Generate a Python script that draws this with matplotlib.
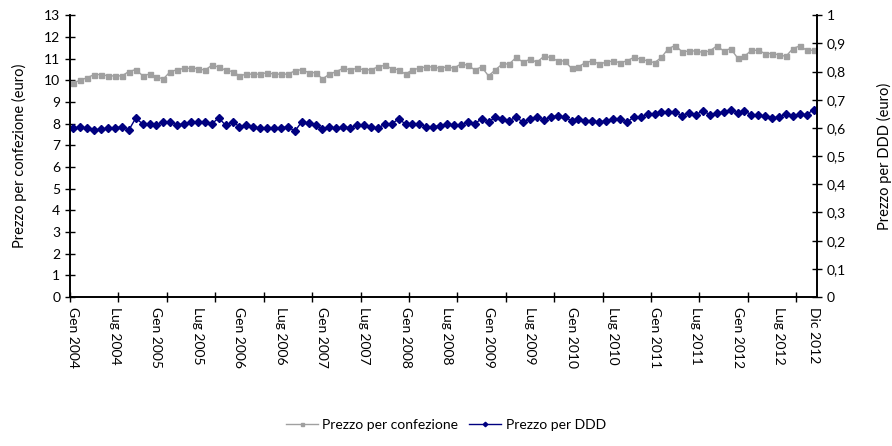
import matplotlib
matplotlib.use('Agg')
import matplotlib.pyplot as plt
from matplotlib.ticker import FuncFormatter

plt.rcParams['font.family'] = ['Lato', 'DejaVu Sans']

# monthly data Gen 2004 - Dic 2012
prezzo_confezione = [
    9.88, 10.00, 10.12, 10.26, 10.26, 10.20, 10.20, 10.20, 10.40, 10.49, 10.21, 10.28,
    10.15, 10.06, 10.40, 10.48, 10.55, 10.55, 10.54, 10.46, 10.69, 10.61, 10.46, 10.40,
    10.20, 10.28, 10.28, 10.28, 10.35, 10.28, 10.28, 10.28, 10.43, 10.49, 10.35, 10.35,
    10.06, 10.28, 10.40, 10.55, 10.48, 10.55, 10.48, 10.48, 10.61, 10.69, 10.54, 10.48,
    10.28, 10.48, 10.55, 10.62, 10.61, 10.55, 10.62, 10.55, 10.75, 10.69, 10.48, 10.61,
    10.20, 10.48, 10.75, 10.75, 11.05, 10.83, 10.97, 10.83, 11.10, 11.05, 10.89, 10.89,
    10.55, 10.62, 10.81, 10.89, 10.75, 10.83, 10.89, 10.81, 10.89, 11.05, 10.97, 10.89,
    10.81, 11.05, 11.46, 11.60, 11.31, 11.35, 11.35, 11.28, 11.35, 11.58, 11.35, 11.46,
    11.03, 11.10, 11.38, 11.38, 11.23, 11.23, 11.17, 11.10, 11.46, 11.58, 11.38, 11.38,
]
prezzo_ddd = [
    0.600, 0.602, 0.598, 0.593, 0.595, 0.598, 0.600, 0.604, 0.592, 0.635, 0.614, 0.614,
    0.609, 0.621, 0.620, 0.611, 0.614, 0.621, 0.622, 0.622, 0.614, 0.636, 0.609, 0.622,
    0.604, 0.611, 0.604, 0.598, 0.598, 0.600, 0.600, 0.605, 0.588, 0.622, 0.616, 0.612,
    0.595, 0.604, 0.598, 0.604, 0.600, 0.611, 0.611, 0.604, 0.598, 0.614, 0.614, 0.632,
    0.614, 0.614, 0.614, 0.604, 0.604, 0.608, 0.614, 0.609, 0.609, 0.620, 0.615, 0.632,
    0.621, 0.638, 0.632, 0.626, 0.638, 0.620, 0.632, 0.638, 0.628, 0.638, 0.644, 0.638,
    0.626, 0.632, 0.626, 0.626, 0.620, 0.626, 0.632, 0.632, 0.620, 0.638, 0.638, 0.649,
    0.649, 0.655, 0.655, 0.655, 0.644, 0.654, 0.647, 0.661, 0.647, 0.653, 0.656, 0.665,
    0.653, 0.660, 0.647, 0.647, 0.641, 0.635, 0.639, 0.649, 0.644, 0.649, 0.647, 0.665,
]
tick_labels = ['Gen 2004', 'Lug 2004', 'Gen 2005', 'Lug 2005', 'Gen 2006', 'Lug 2006',
               'Gen 2007', 'Lug 2007', 'Gen 2008', 'Lug 2008', 'Gen 2009', 'Lug 2009',
               'Gen 2010', 'Lug 2010', 'Gen 2011', 'Lug 2011', 'Gen 2012', 'Lug 2012',
               'Dic 2012']
tick_pos = list(range(0, 103, 6)) + [107]

x = list(range(len(prezzo_confezione)))

fig = plt.figure(figsize=(8.92, 4.46), dpi=100)
ax = fig.add_axes([0.0785, 0.334, 0.8375, 0.632])
ax2 = ax.twinx()

l1, = ax.plot(x, prezzo_confezione, color='#a0a0a0', marker='s', markersize=3.6,
              linewidth=1.0, label='Prezzo per confezione')
l2, = ax2.plot(x, prezzo_ddd, color='#000080', marker='D', markersize=3.8,
               linewidth=1.0, label='Prezzo per DDD')

ax.set_xlim(-0.5, 107.5)
ax.set_ylim(0, 13)
ax.set_yticks(range(0, 14))
ax2.set_ylim(0, 1)
ax2.set_yticks([i / 10 for i in range(11)])
ax2.yaxis.set_major_formatter(FuncFormatter(
    lambda v, p: '0' if v == 0 else ('1' if v == 1 else f'{v:.1f}'.replace('.', ','))))

# tick marks every 7 months, labels every 6 months
ax.set_xticks([-0.5 + 7 * k for k in range(16)])
ax.set_xticklabels([])
ax.set_xticks(tick_pos, tick_labels, minor=True)
ax.tick_params(axis='x', which='minor', length=0, labelrotation=-90, labelsize=10, pad=7)
ax.tick_params(axis='x', which='major', direction='inout', length=7, width=1)
ax.tick_params(axis='y', direction='inout', length=7, width=1, labelsize=10)
ax2.tick_params(axis='y', direction='inout', length=7, width=1, labelsize=10)
for lab in ax.get_xticklabels(minor=True):
    lab.set_va('top')
    lab.set_ha('center')

for a in (ax, ax2):
    a.spines['top'].set_visible(False)
    for s in ('left', 'right', 'bottom'):
        a.spines[s].set_linewidth(1.2)
        a.spines[s].set_color('#000000')

ax.set_ylabel('Prezzo per confezione (euro)', fontsize=10.5, labelpad=12)
ax2.set_ylabel('Prezzo per DDD (euro)', fontsize=10.5, rotation=90, labelpad=22)

fig.legend(handles=[l1, l2], loc='center', bbox_to_anchor=(0.5, 0.047), ncol=2,
           frameon=False, fontsize=10, handlelength=2.3, columnspacing=0.8,
           handletextpad=0.3, markerscale=0.6)

fig.savefig('out.png', dpi=100)
